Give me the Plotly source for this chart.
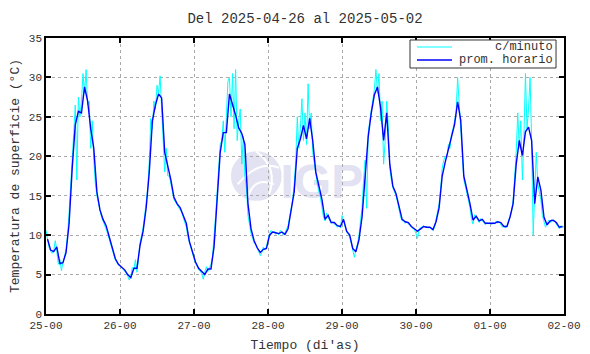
import plotly.graph_objects as go
import pandas as pd

START = "2025-04-25 00:00"
END = "2025-05-02 00:00"

# Hourly averages (prom. horario), one list per day, plotted at the half hour
prom_25 = [9.5, 8.1, 7.9, 8.5, 6.4, 6.5, 7.8, 11.5, 18.5, 24.0, 25.7, 25.5,
           28.8, 27.0, 23.5, 21.0, 15.5, 13.2, 12.0, 11.2, 9.8, 8.3, 7.0, 6.3]
prom_26 = [6.0, 5.6, 5.0, 4.6, 5.8, 5.8, 8.7, 10.5, 13.5, 18.0, 24.5, 26.5,
           27.9, 27.4, 20.5, 18.8, 17.0, 14.8, 14.0, 13.5, 12.5, 11.5, 9.2, 7.9]
prom_27 = [6.6, 5.8, 5.4, 5.0, 5.7, 5.7, 8.5, 14.9, 20.5, 23.0, 23.0, 27.9,
           26.6, 25.2, 23.6, 22.9, 21.5, 14.0, 10.8, 9.3, 8.4, 7.8, 8.2, 8.3]
prom_28 = [10.0, 10.4, 10.3, 10.2, 10.4, 10.1, 10.8, 13.0, 15.5, 21.0, 22.2, 23.9,
           22.2, 24.8, 22.0, 18.0, 16.0, 14.5, 12.0, 12.5, 11.6, 11.6, 11.2, 11.1]
prom_29 = [12.0, 10.5, 10.0, 8.3, 7.9, 9.4, 12.3, 18.0, 22.5, 25.5, 27.8, 28.8,
           26.2, 22.0, 25.5, 19.0, 16.2, 15.3, 13.7, 12.0, 11.7, 11.6, 11.1, 10.8]
prom_30 = [10.5, 10.8, 11.1, 11.0, 11.0, 10.7, 11.7, 13.5, 17.5, 19.3, 20.8, 22.2,
           24.0, 26.9, 24.6, 17.5, 15.8, 14.0, 11.9, 12.4, 11.8, 12.0, 11.5, 11.5]
prom_01 = [11.5, 11.5, 11.7, 11.6, 11.1, 11.1, 12.3, 14.0, 19.0, 22.0, 20.1, 23.1,
           23.7, 22.0, 14.0, 17.4, 15.7, 12.3, 11.3, 11.8, 11.9, 11.6, 11.0, 11.1]

# Per-minute series (c/minuto), read every half hour, one list per day
min_25 = [10.6, 9.3, 8.4, 8.0, 7.7, 8.0, 9.3, 8.0, 6.3, 6.9, 5.5, 6.6,
          7.2, 8.3, 10.0, 13.0, 16.0, 19.0, 23.0, 26.5, 17.0, 27.5, 25.0, 27.0,
          30.5, 28.0, 31.0, 26.5, 27.0, 21.0, 24.5, 19.5, 16.5, 15.0, 14.0, 13.0,
          12.3, 11.8, 11.3, 10.8, 10.2, 9.5, 8.8, 8.0, 7.4, 6.8, 6.5, 6.2]
min_26 = [6.1, 5.9, 5.6, 5.4, 5.2, 4.8, 4.3, 4.8, 5.9, 5.6, 6.9, 5.3,
          7.5, 9.0, 10.0, 11.0, 12.5, 14.0, 16.0, 19.5, 24.8, 23.5, 27.0, 26.0,
          29.0, 28.0, 30.2, 26.0, 22.0, 18.0, 21.0, 17.5, 17.5, 16.5, 15.3, 14.5,
          14.2, 13.8, 13.6, 13.2, 12.9, 12.3, 11.8, 11.0, 9.8, 9.0, 8.3, 7.6]
min_27 = [7.0, 6.4, 6.1, 5.6, 5.5, 5.1, 4.4, 5.3, 6.0, 5.4, 5.8, 6.3,
          7.3, 9.5, 12.5, 15.5, 19.0, 21.5, 22.0, 24.5, 20.5, 25.0, 29.5, 30.0,
          25.0, 30.5, 23.5, 31.0, 22.0, 24.5, 26.0, 19.0, 22.5, 17.5, 16.0, 12.5,
          11.2, 10.2, 9.6, 9.0, 8.8, 8.2, 7.9, 7.4, 7.8, 8.5, 8.1, 8.6]
min_28 = [9.6, 10.2, 10.6, 10.3, 10.5, 10.1, 10.3, 10.0, 10.6, 10.2, 10.0, 10.3,
          10.7, 11.2, 12.3, 13.5, 14.5, 16.5, 19.5, 25.0, 21.0, 23.5, 27.3, 22.0,
          25.5, 21.5, 29.2, 23.5, 25.5, 20.5, 19.0, 17.5, 16.5, 15.5, 14.8, 13.5,
          12.3, 11.8, 12.8, 12.2, 11.8, 11.5, 11.7, 11.4, 11.3, 11.0, 11.2, 10.9]
min_29 = [12.5, 11.8, 11.0, 10.4, 10.2, 9.8, 9.0, 8.0, 7.2, 8.2, 8.8, 10.0,
          11.5, 13.5, 17.0, 19.5, 13.4, 23.0, 24.5, 26.0, 27.5, 28.5, 31.0, 28.0,
          30.5, 24.5, 27.0, 19.0, 22.0, 27.0, 24.0, 18.5, 17.0, 16.0, 15.5, 15.0,
          14.2, 13.2, 12.3, 11.8, 11.9, 11.5, 11.7, 11.4, 11.3, 11.0, 10.9, 10.7]
min_30 = [10.2, 9.6, 10.8, 10.9, 11.0, 11.2, 11.0, 11.1, 10.9, 11.0, 10.8, 10.6,
          11.0, 12.0, 12.8, 14.0, 16.0, 18.5, 19.5, 20.0, 19.8, 21.5, 21.0, 22.8,
          23.5, 24.8, 25.5, 30.0, 26.5, 23.5, 20.0, 17.0, 16.2, 15.2, 14.5, 13.5,
          12.0, 11.4, 12.6, 12.2, 11.9, 11.6, 12.1, 11.8, 11.6, 11.3, 11.6, 11.4]
min_01 = [11.6, 11.3, 11.6, 11.4, 11.8, 11.5, 11.7, 11.4, 11.0, 11.2, 10.9, 11.2,
          11.8, 12.5, 13.0, 14.5, 17.5, 20.5, 25.5, 21.0, 24.5, 17.0, 22.5, 30.5,
          23.5, 26.0, 30.0, 22.0, 10.0, 16.0, 20.5, 16.5, 15.5, 14.5, 12.5, 11.8,
          11.0, 11.5, 11.9, 11.6, 12.0, 11.7, 11.8, 11.4, 11.0, 10.8, 11.2, 11.0]
min_end = [11.1]

series_names = ["c/minuto", "prom. horario"]
series_colors = ["#00ffff", "#0000ff"]

prom_horario = prom_25 + prom_26 + prom_27 + prom_28 + prom_29 + prom_30 + prom_01
c_minuto = min_25 + min_26 + min_27 + min_28 + min_29 + min_30 + min_01 + min_end

t_hour = pd.date_range(START, periods=len(prom_horario), freq="h") + pd.Timedelta(minutes=30)
t_min = pd.date_range(START, periods=len(c_minuto), freq="30min")

FONT = "Liberation Mono"
TXT = "#333333"

fig = go.Figure()
fig.add_trace(go.Scatter(
    x=t_min, y=c_minuto, mode="lines", name=series_names[0],
    line=dict(color=series_colors[0], width=1), hoverinfo="skip"))
fig.add_trace(go.Scatter(
    x=t_hour, y=prom_horario, mode="lines", name=series_names[1],
    line=dict(color=series_colors[1], width=1.4), hoverinfo="skip"))

# IGP watermark (below the data)
wm = "#e2e2f3"
shapes = [
    dict(type="circle", xref="paper", yref="paper", layer="below",
         x0=0.357, x1=0.455, y0=0.41, y1=0.59, fillcolor=wm, line=dict(width=0)),
    dict(type="path", xref="paper", yref="paper", layer="below",
         path="M 0.37 0.47 Q 0.41 0.56 0.45 0.53", line=dict(color="white", width=2)),
    dict(type="path", xref="paper", yref="paper", layer="below",
         path="M 0.39 0.42 Q 0.40 0.50 0.44 0.47", line=dict(color="white", width=2)),
    dict(type="path", xref="paper", yref="paper", layer="below",
         path="M 0.405 0.59 Q 0.45 0.53 0.43 0.43", line=dict(color="white", width=2)),
    dict(type="rect", xref="paper", yref="paper", layer="below",
         x0=0.455, x1=0.61, y0=0.40, y1=0.60, line=dict(width=0),
         fillcolor="rgba(0,0,0,0)",
         label=dict(text="<b>IGP</b>", font=dict(family="Liberation Sans", size=48, color=wm),
                    textposition="middle center")),
]

# gnuplot-style key box (sample line left, text right-aligned)
shapes.append(dict(type="rect", xref="paper", yref="paper", layer="above",
                   x0=0.7027, x1=0.9846, y0=0.8913, y1=0.9928,
                   fillcolor="white", line=dict(color=TXT, width=1)))
annotations = []
for i, (nm, col) in enumerate(zip(series_names, series_colors)):
    yk = 0.9674 - i * 0.0471
    shapes.append(dict(type="line", xref="paper", yref="paper", layer="above",
                       x0=0.7162, x1=0.7838, y0=yk, y1=yk,
                       line=dict(color=col, width=1 if i == 0 else 1.4)))
    annotations.append(dict(text=nm, xref="paper", yref="paper", x=0.9826, y=yk,
                            xanchor="right", yanchor="middle", showarrow=False,
                            font=dict(family=FONT, size=12, color=TXT)))

fig.update_layout(
    width=590, height=354,
    margin=dict(l=46, r=26, t=38, b=40, autoexpand=False),
    paper_bgcolor="white", plot_bgcolor="white",
    font=dict(family=FONT, color=TXT, size=11),
    title=dict(text="Del 2025-04-26 al 2025-05-02", x=0.517, xanchor="center",
               y=1 - 18 / 354, yanchor="middle", yref="container",
               font=dict(family=FONT, size=14, color=TXT)),
    showlegend=False,
    shapes=shapes,
    annotations=annotations,
)

fig.update_xaxes(
    type="date", range=[START, END], tick0=START, dtick=86400000, automargin=False,
    tickformat="%d-%H", ticks="inside", ticklen=5, tickcolor="black", tickwidth=1.5,
    showgrid=True, gridcolor="#aaaaaa", griddash="dot", gridwidth=1,
    showline=True, linecolor="black", linewidth=1.5, mirror="ticks",
    zeroline=False, tickfont=dict(family=FONT, size=11, color=TXT),
    title=dict(text="Tiempo (di'as)", font=dict(family=FONT, size=13, color=TXT),
               standoff=9),
)
fig.update_yaxes(
    range=[0, 35], dtick=5, tick0=0, automargin=False,
    ticks="inside", ticklen=5, tickcolor="black", tickwidth=1.5,
    showgrid=True, gridcolor="#aaaaaa", griddash="dot", gridwidth=1,
    showline=True, linecolor="black", linewidth=1.5, mirror="ticks",
    zeroline=False, tickfont=dict(family=FONT, size=11, color=TXT),
    title=dict(text="Temperatura de superficie (°C)",
               font=dict(family=FONT, size=13, color=TXT), standoff=6),
)

fig.write_html("out.html", config={"displayModeBar": False},
               post_script="document.body.style.margin='0';document.body.style.padding='0';")
